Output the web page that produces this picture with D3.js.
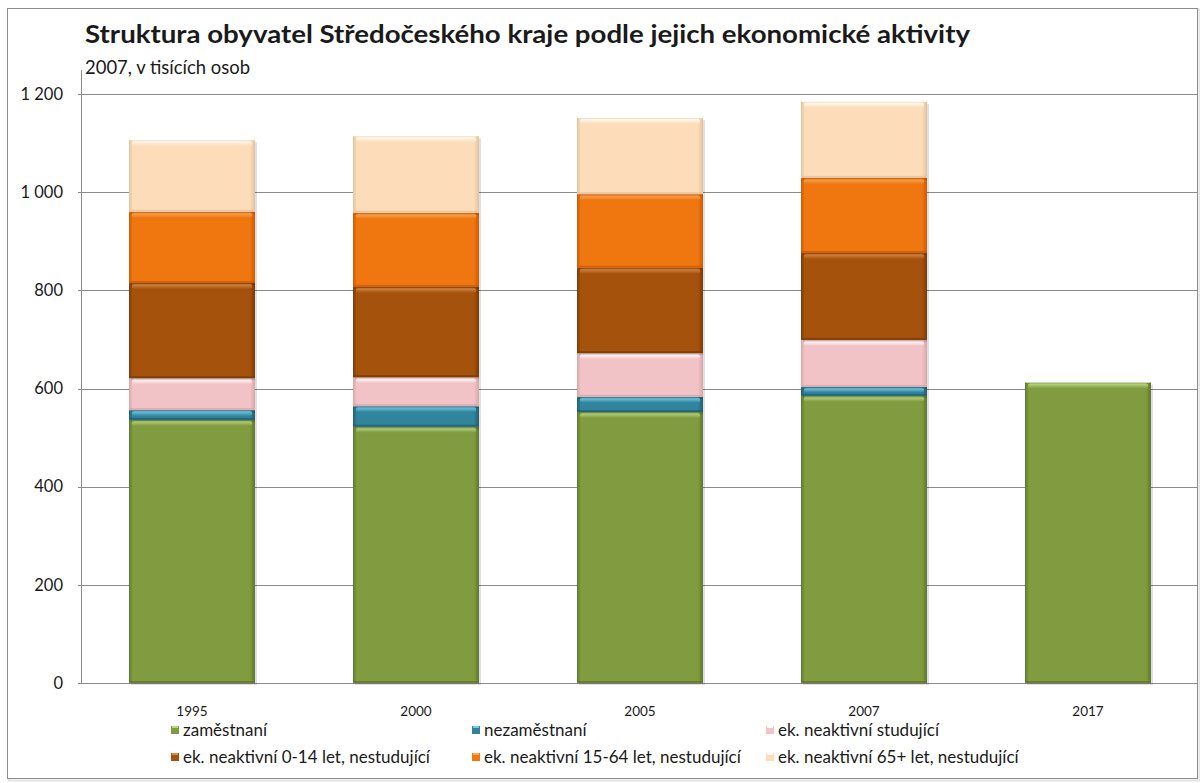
<!DOCTYPE html>
<html>
<head>
<meta charset="utf-8">
<script src="https://cdn.jsdelivr.net/npm/d3@7"></script>
<style>
  html, body { margin: 0; padding: 0; background: #fff; }
  svg text { font-family: Lato, "Open Sans", sans-serif; fill: #1a1a1a; }
</style>
</head>
<body>
<svg id="chart" width="1200" height="783"></svg>
<script>
(function () {
  'use strict';

  // values, thousands of people
  const years = ['1995', '2000', '2005', '2007', '2017'];
  const zamestnani = [536, 522, 552, 585, 612];
  const nezamestnani = [20, 42, 31, 18, 0];
  const studujici = [65, 59, 89, 96, 0];
  const neakt0014 = [194, 184, 174, 177, 0];
  const neakt1564 = [145, 151, 150, 153, 0];
  const neakt65 = [146, 156, 155, 155, 0];

  const seriesNames = [
    'zaměstnaní',
    'nezaměstnaní',
    'ek. neaktivní studující',
    'ek. neaktivní 0-14 let, nestudující',
    'ek. neaktivní 15-64 let, nestudující',
    'ek. neaktivní 65+ let, nestudující'
  ];
  const seriesValues = [zamestnani, nezamestnani, studujici, neakt0014, neakt1564, neakt65];
  const yTicks = [0, 200, 400, 600, 800, 1000, 1200];

  // base, edge (darker), top highlight
  const palette = [
    { base: '#809b40', edge: '#5f7a2a', hi: '#b9d683' },
    { base: '#31849b', edge: '#1f5f72', hi: '#73cdea' },
    { base: '#f2c3c6', edge: '#d9a6a9', hi: '#ffffff' },
    { base: '#a5520d', edge: '#7c3b06', hi: '#d98b48' },
    { base: '#f0760f', edge: '#c95c05', hi: '#fcaa55' },
    { base: '#fddcb9', edge: '#e5c19c', hi: '#fffaf3' }
  ];

  const rows = years.map((y, i) => {
    const r = { year: y };
    seriesNames.forEach((s, k) => { r[s] = seriesValues[k][i]; });
    return r;
  });

  const stacked = d3.stack().keys(seriesNames)(rows);

  const svg = d3.select('#chart');

  // outer frame
  svg.append('rect')
    .attr('x', 8.5).attr('y', 9.5)
    .attr('width', 1191).attr('height', 771)
    .attr('fill', 'none')
    .attr('stroke', '#e3e3e3')
    .attr('stroke-width', 2);
  svg.append('rect')
    .attr('x', 7.5).attr('y', 8.5)
    .attr('width', 1190).attr('height', 770)
    .attr('fill', '#fff')
    .attr('stroke', '#8c8c8c');

  const x = d3.scaleBand()
    .domain(years)
    .range([80, 1200])
    .paddingInner(0.4375)
    .paddingOuter(0.21875);

  const y = d3.scaleLinear()
    .domain([0, 1200])
    .range([683, 94]);

  // gradients for the bevelled look
  const defs = svg.append('defs');
  palette.forEach((p, k) => {
    const g = defs.append('linearGradient')
      .attr('id', 'grad' + k)
      .attr('x1', '0%').attr('x2', '100%').attr('y1', '0%').attr('y2', '0%');
    g.append('stop').attr('offset', '0%').attr('stop-color', p.edge);
    g.append('stop').attr('offset', '3%').attr('stop-color', p.base);
    g.append('stop').attr('offset', '96%').attr('stop-color', p.base);
    g.append('stop').attr('offset', '100%').attr('stop-color', p.edge);

    const h = defs.append('linearGradient')
      .attr('id', 'hi' + k)
      .attr('x1', '0%').attr('x2', '0%').attr('y1', '0%').attr('y2', '100%');
    h.append('stop').attr('offset', '0%').attr('stop-color', p.hi).attr('stop-opacity', 1);
    h.append('stop').attr('offset', '100%').attr('stop-color', p.base).attr('stop-opacity', 1);
  });

  // gridlines
  svg.append('g')
    .selectAll('line')
    .data(yTicks)
    .join('line')
      .attr('x1', 78).attr('x2', 1198)
      .attr('y1', d => Math.round(y(d)) + 0.5)
      .attr('y2', d => Math.round(y(d)) + 0.5)
      .attr('stroke', '#8a8a8a')
      .attr('stroke-width', 1);

  // y axis line
  svg.append('line')
    .attr('x1', 81.5).attr('x2', 81.5)
    .attr('y1', 70).attr('y2', Math.round(y(0)) + 0.5)
    .attr('stroke', '#8a8a8a');

  // y labels, space as thousands separator
  const fmt = v => d3.format(',')(v).replace(',', ' ');
  svg.append('g')
    .selectAll('text')
    .data(yTicks)
    .join('text')
      .attr('x', 63)
      .attr('y', d => y(d))
      .attr('dy', '0.35em')
      .attr('text-anchor', 'end')
      .style('font-size', '16.5px')
      .text(fmt);

  // bars
  const layer = svg.append('g')
    .selectAll('g')
    .data(stacked)
    .join('g');

  layer.each(function (s, k) {
    const g = d3.select(this);
    const segs = s.filter(d => d[1] - d[0] > 0);

    // soft shadow on right
    g.selectAll('rect.shadow')
      .data(segs)
      .join('rect')
        .attr('class', 'shadow')
        .attr('x', d => x(d.data.year) + 2)
        .attr('y', d => y(d[1]) + 2)
        .attr('width', x.bandwidth())
        .attr('height', d => y(d[0]) - y(d[1]))
        .attr('fill', '#000')
        .attr('opacity', 0.12);

    g.selectAll('rect.seg')
      .data(segs)
      .join('rect')
        .attr('class', 'seg')
        .attr('x', d => x(d.data.year))
        .attr('y', d => y(d[1]))
        .attr('width', x.bandwidth())
        .attr('height', d => y(d[0]) - y(d[1]))
        .attr('fill', 'url(#grad' + k + ')');

    // top bevel highlight
    g.selectAll('rect.hi')
      .data(segs)
      .join('rect')
        .attr('class', 'hi')
        .attr('x', d => x(d.data.year) + 3)
        .attr('y', d => y(d[1]) + 1)
        .attr('width', x.bandwidth() - 6)
        .attr('height', d => Math.min(5, (y(d[0]) - y(d[1])) / 2))
        .attr('rx', 2)
        .attr('fill', 'url(#hi' + k + ')');

    // bottom darker edge
    g.selectAll('rect.lo')
      .data(segs)
      .join('rect')
        .attr('class', 'lo')
        .attr('x', d => x(d.data.year))
        .attr('y', d => y(d[0]) - 2)
        .attr('width', x.bandwidth())
        .attr('height', 2)
        .attr('fill', palette[k].edge)
        .attr('opacity', 0.8);
  });

  // x labels
  svg.append('g')
    .selectAll('text')
    .data(years)
    .join('text')
      .attr('x', d => x(d) + x.bandwidth() / 2)
      .attr('y', 711)
      .attr('dy', '0.35em')
      .attr('text-anchor', 'middle')
      .style('font-size', '13.5px')
      .text(d => d);

  // legend
  const legendPos = [
    { x: 171, y: 730 }, { x: 472, y: 730 }, { x: 766, y: 730 },
    { x: 171, y: 757 }, { x: 472, y: 757 }, { x: 766, y: 757 }
  ];
  const legend = svg.append('g')
    .selectAll('g')
    .data(seriesNames)
    .join('g')
      .attr('transform', (d, i) => `translate(${legendPos[i].x},${legendPos[i].y})`);
  legend.append('rect')
    .attr('x', 0).attr('y', -4)
    .attr('width', 8).attr('height', 8)
    .attr('fill', (d, i) => 'url(#grad' + i + ')');
  legend.append('rect')
    .attr('x', 1).attr('y', -4)
    .attr('width', 6).attr('height', 2)
    .attr('fill', (d, i) => palette[i].hi);
  legend.append('text')
    .attr('x', 12)
    .attr('dy', '0.35em')
    .style('font-size', '17px')
    .text(d => d);

  // titles
  svg.append('text')
    .attr('x', 85).attr('y', 43)
    .attr('textLength', 885)
    .attr('lengthAdjust', 'spacingAndGlyphs')
    .style('font-size', '24px')
    .style('font-weight', 'bold')
    .text('Struktura obyvatel Středočeského kraje podle jejich ekonomické aktivity');

  svg.append('text')
    .attr('x', 85).attr('y', 74)
    .attr('textLength', 165)
    .attr('lengthAdjust', 'spacingAndGlyphs')
    .style('font-size', '18.5px')
    .text('2007, v tisících osob');
}());
</script>
</body>
</html>
